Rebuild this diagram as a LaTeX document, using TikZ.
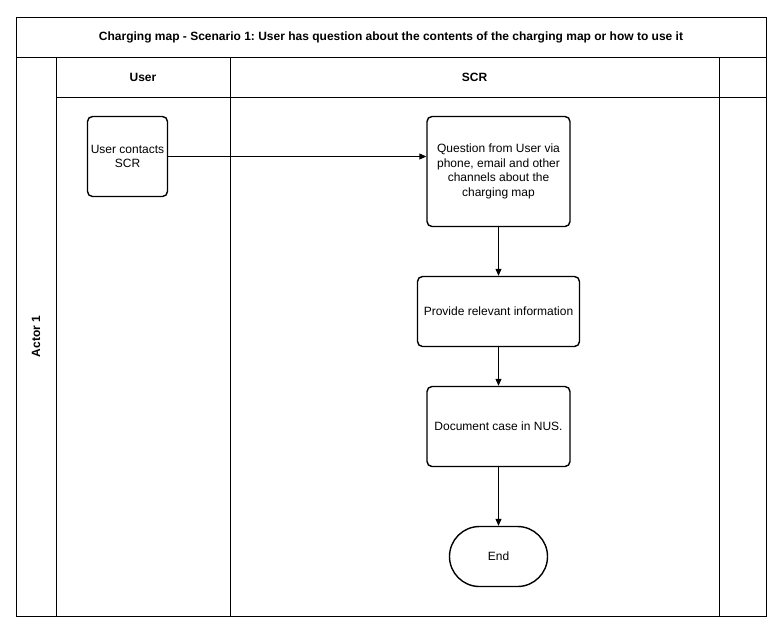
\documentclass[tikz,border=0pt]{standalone}
\usepackage{fontspec}
\setmainfont{Liberation Sans}
\usetikzlibrary{arrows.meta,shapes.misc}
\frenchspacing
\begin{document}
\begin{tikzpicture}[x=1pt,y=-1pt,
  lane/.style={draw=black,line width=1pt},
  proc/.style={draw=black,line width=1.4pt,rounded corners=5pt,fill=white,align=center,inner sep=0pt,font=\fontsize{12}{14.5}\selectfont},
  term/.style={draw=black,line width=1.4pt,rounded rectangle,fill=white,inner sep=0pt,font=\fontsize{12}{14.5}\selectfont},
  hdr/.style={font=\bfseries\fontsize{12}{14}\selectfont},
  flow/.style={draw=black,line width=1pt,-{Triangle[length=7pt,width=6pt]}}]
\useasboundingbox (0,0) rectangle (783,633);
% pool frame
\draw[lane] (16,17) rectangle (766,616);
\draw[lane] (16,57) -- (766,57);
\draw[lane] (56,97) -- (766,97);
\draw[lane] (56,57) -- (56,616);
\draw[lane] (230,57) -- (230,616);
\draw[lane] (719,57) -- (719,616);
% headers
\node[hdr] (title) at (391,37) {Charging map - Scenario 1: User has question about the contents of the charging map or how to use it};
\node[hdr] (huser) at (143,77) {User};
\node[hdr] (hscr) at (474.5,77) {SCR};
\node[hdr,rotate=90] (actor) at (36,336.5) {Actor 1};
% nodes
\node[proc,minimum width=80pt,minimum height=80pt] (contact) at (127.5,156.5) {User contacts\\SCR};
\node[proc,minimum width=143pt,minimum height=110pt] (question) at (498.5,171.5) {Question from User via\\phone, email and other\\channels about the\\charging map};
\node[proc,minimum width=162pt,minimum height=70pt] (provide) at (498.5,311.5) {Provide relevant information};
\node[proc,minimum width=143pt,minimum height=80pt] (document) at (498.5,426.5) {Document case in NUS.};
\node[term,minimum width=98pt,minimum height=60pt] (end) at (498.5,556.5) {End};
% connectors
\draw[flow] (contact.east) -- (contact.east -| question.west);
\draw[flow] (question) -- (provide);
\draw[flow] (provide) -- (document);
\draw[flow] (document) -- (end);
\end{tikzpicture}
\end{document}
